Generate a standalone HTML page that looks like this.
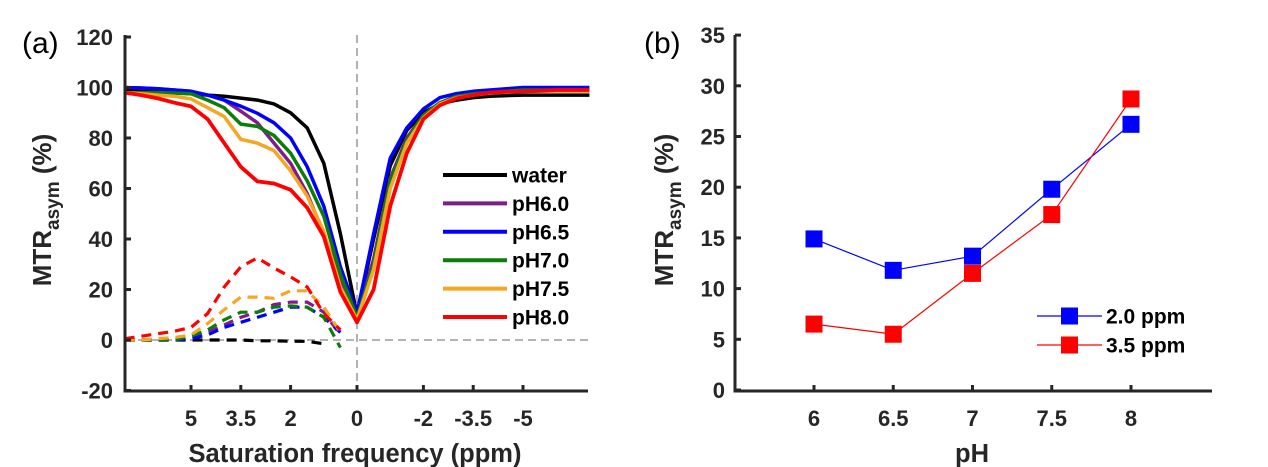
<!DOCTYPE html>
<html><head><meta charset="utf-8"><style>
html,body{margin:0;padding:0;background:#fff;}
svg{display:block;font-family:"Liberation Sans",Arial,sans-serif;}
.tk{font-size:22px;font-weight:bold;fill:#262626;}
</style></head><body>
<svg id="chart" width="1268" height="467" viewBox="0 0 1268 467">
<g id="pa"></g>
<g id="pb"></g>
</svg>
<script>
// ---------- Panel (a) data ----------
const freqA = [7,6.5,6,5.5,5,4.5,4,3.5,3,2.5,2,1.5,1,0.5,0,-0.5,-1,-1.5,-2,-2.5,-3,-3.5,-4,-4.5,-5,-5.5,-6,-6.5,-7];
const seriesNamesA = ["water","pH6.0","pH6.5","pH7.0","pH7.5","pH8.0"];
const zWater = [99,99,98.5,98,97.5,97,96.5,95.8,95,93.5,90,84,70,42,10,40,69,83,90,93.5,95,96,96.5,96.8,97,97,97,97,97];
const zPH60 = [100,99.8,99.5,99,98.5,97,95,90.6,86,78,70,58,42,24,9,32,64,80,89,94,96.5,97.5,98,98.5,99,99,99,99,99];
const zPH65 = [100,99.8,99.5,99,98.5,97,95,92.6,89.8,86,80,68.6,53,29,10.6,42,72,84,91.5,96,97.6,98.5,99,99.5,100,100,100,100,100];
const zPH70 = [98,98,98,97.8,97.5,95,92,85.5,84.6,81,74,63,49,26,9,30,63,79,89,94,96.5,97.5,98,98.5,99,99,99,99,99];
const zPH75 = [98,97.5,97,96.5,95.5,92,88.5,79.5,78,75,67,57,43,21,8,28,60,78,88,93.5,96,97,97.8,98.2,98.5,98.5,98.5,98.5,98.5];
const zPH80 = [98,97,95.7,94,92.5,87.5,78,68.6,62.8,62,59.5,52.4,41,19,7,20,53,74,87.5,93,95.7,97,98,98.3,98.5,98.7,99,99,99];
const freqDash = [7,6.5,6,5.5,5,4.5,4,3.5,3,2.5,2,1.5,1,0.5];
const aWater = [0,0,0,0,0,0,0,0,-0.3,-0.3,-0.5,-0.5,-1.5,null];
const aPH60 = [0,0,0,0,1,3,6,9,11,14,15,15,11,2];
const aPH65 = [0,0,0,0,0.5,2,5,7,9,11,13,13,9,3];
const aPH70 = [0,0,0,0,1.5,4,8,11,11,13,13.5,13,9,-3];
const aPH75 = [0,0,0.5,1,2,6.5,12,17,17,16.5,19.5,19.5,13,3];
const aPH80 = [0.5,1.5,2.5,3.5,5,10.5,21,29,32.5,28.5,25,21,10.5,4];
const yTicksA = [120,100,80,60,40,20,0,-20];
const xTicksA = [5,3.5,2,0,-2,-3.5,-5];
const xTickLabelsA = ["5","3.5","2","0","-2","-3.5","-5"];
const colorsA = ["#000000","#7E1E8C","#0000FF","#0A7D0A","#F5A623","#FF0000"];

// ---------- Panel (b) data ----------
const phB = [6,6.5,7,7.5,8];
const xTickLabelsB = ["6","6.5","7","7.5","8"];
const ppm20 = [14.9,11.8,13.2,19.8,26.2];
const ppm35 = [6.5,5.5,11.5,17.3,28.7];
const yTicksB = [0,5,10,15,20,25,30,35];
const legendB = ["2.0 ppm","3.5 ppm"];

const NS="http://www.w3.org/2000/svg";
function mk(tag, attrs, parent){const e=document.createElementNS(NS,tag);for(const k in attrs)e.setAttribute(k,attrs[k]);parent.appendChild(e);return e;}

const xA = p => 357 - 33.2*p;
const yA = v => 340 - 2.525*v;
const pa = document.getElementById('pa');

let l = mk('line',{x1:xA(0),y1:35,x2:xA(0),y2:391,stroke:'#888','stroke-width':1.3,'stroke-dasharray':'8,5'},pa);
 
l = mk('line',{x1:125,y1:yA(0),x2:588,y2:yA(0),stroke:'#888','stroke-width':1.3,'stroke-dasharray':'8,5'},pa);
 

function pathFrom(xs, ys, xf, yf){let d='';let pen=false;for(let i=0;i<xs.length;i++){if(ys[i]==null){pen=false;continue;}d+=(pen?'L':'M')+xf(xs[i]).toFixed(1)+','+yf(ys[i]).toFixed(1);pen=true;}return d;}
const zSeries=[zWater,zPH60,zPH65,zPH70,zPH75,zPH80];
const aSeries=[aWater,aPH60,aPH65,aPH70,aPH75,aPH80];
for(let s=0;s<6;s++){
  let p = mk('path',{d:pathFrom(freqDash,aSeries[s],xA,yA),fill:'none',stroke:colorsA[s],'stroke-width':3.2,'stroke-dasharray':'10,7'},pa);
  
  
}
const widths=[3.5,3.5,3.5,3.5,3.5,3.8];
for(let s=0;s<6;s++){
  let p = mk('path',{d:pathFrom(freqA,zSeries[s],xA,yA),fill:'none',stroke:colorsA[s],'stroke-width':widths[s],'stroke-linejoin':'round'},pa);
  
  
}
l = mk('path',{d:'M125,35 L125,391 L588,391',fill:'none',stroke:'#262626','stroke-width':3},pa);
 
yTicksA.forEach(v=>{
  let t=mk('line',{x1:125,y1:yA(v),x2:131,y2:yA(v),stroke:'#262626','stroke-width':3},pa);
   
  let tx=mk('text',{x:113,y:yA(v)+8,'text-anchor':'end',class:'tk'},pa); tx.textContent=v;
   
});
xTicksA.forEach((p,i)=>{
  let t=mk('line',{x1:xA(p),y1:391,x2:xA(p),y2:385,stroke:'#262626','stroke-width':3},pa);
   
  let tx=mk('text',{x:xA(p),y:426,'text-anchor':'middle',class:'tk'},pa); tx.textContent=xTickLabelsA[i];
   
});
let t = mk('text',{x:355,y:462,'text-anchor':'middle','font-size':25.5,'font-weight':'bold',fill:'#262626'},pa);
t.textContent='Saturation frequency (ppm)';
 
t = mk('text',{x:0,y:0,'text-anchor':'middle','font-size':26,'font-weight':'bold',fill:'#262626',transform:'translate(51,210) rotate(-90)'},pa);
t.innerHTML='MTR<tspan font-size="19" dy="8">asym</tspan><tspan dy="-8"> (%)</tspan>';
 
t = mk('text',{x:22,y:53,'font-size':30,fill:'#000'},pa); t.textContent='(a)';
 
seriesNamesA.forEach((n,i)=>{
  const y=175+28.4*i;
  let g=mk('g',{},pa);  
  mk('line',{x1:443,y1:y,x2:507,y2:y,stroke:colorsA[i],'stroke-width':4},g);
  let tx=mk('text',{x:512,y:y+7.5,'font-size':21,'font-weight':'bold',fill:'#000'},g); tx.textContent=n;
});

// ---------- Panel (b) ----------
const xB = p => 814 + 158.5*(p-6);
const yB = v => 390 - 10.14*v;
const pb = document.getElementById('pb');
const seriesB=[ppm20,ppm35], colB=['#0000FF','#FF0000'], nameB=['2.0-ppm','3.5-ppm'];
seriesB.forEach((ser,s)=>{
  let p=mk('path',{d:pathFrom(phB,ser,xB,yB),fill:'none',stroke:colB[s],'stroke-width':1.2},pb);
   
});
seriesB.forEach((ser,s)=>{
  ser.forEach((v,i)=>{
    let r=mk('rect',{x:xB(phB[i])-8.5,y:yB(v)-8.5,width:17,height:17,fill:colB[s]},pb);
     
  });
});
l = mk('path',{d:'M735,35 L735,391 L1212,391',fill:'none',stroke:'#262626','stroke-width':3},pb);
 
yTicksB.forEach(v=>{
  let tk=mk('line',{x1:735,y1:yB(v),x2:741,y2:yB(v),stroke:'#262626','stroke-width':3},pb);
   
  let tx=mk('text',{x:725,y:yB(v)+8,'text-anchor':'end',class:'tk'},pb); tx.textContent=v;
   
});
phB.forEach((p,i)=>{
  let tk=mk('line',{x1:xB(p),y1:391,x2:xB(p),y2:385,stroke:'#262626','stroke-width':3},pb);
   
  let tx=mk('text',{x:xB(p),y:426,'text-anchor':'middle',class:'tk'},pb); tx.textContent=xTickLabelsB[i];
   
});
t = mk('text',{x:972,y:462,'text-anchor':'middle','font-size':25.5,'font-weight':'bold',fill:'#262626'},pb);
t.textContent='pH';
 
t = mk('text',{x:0,y:0,'text-anchor':'middle','font-size':26,'font-weight':'bold',fill:'#262626',transform:'translate(673,210) rotate(-90)'},pb);
t.innerHTML='MTR<tspan font-size="19" dy="8">asym</tspan><tspan dy="-8"> (%)</tspan>';
 
t = mk('text',{x:644,y:53,'font-size':30,fill:'#000'},pb); t.textContent='(b)';
 
legendB.forEach((n,i)=>{
  const y=316+29*i;
  let g=mk('g',{},pb);  
  mk('line',{x1:1037,y1:y,x2:1102,y2:y,stroke:colB[i],'stroke-width':1.2},g);
  mk('rect',{x:1061,y:y-8.5,width:17,height:17,fill:colB[i]},g);
  let tx=mk('text',{x:1106,y:y+7.5,'font-size':21,'font-weight':'bold',fill:'#000'},g); tx.textContent=n;
});
</script>
</body></html>
